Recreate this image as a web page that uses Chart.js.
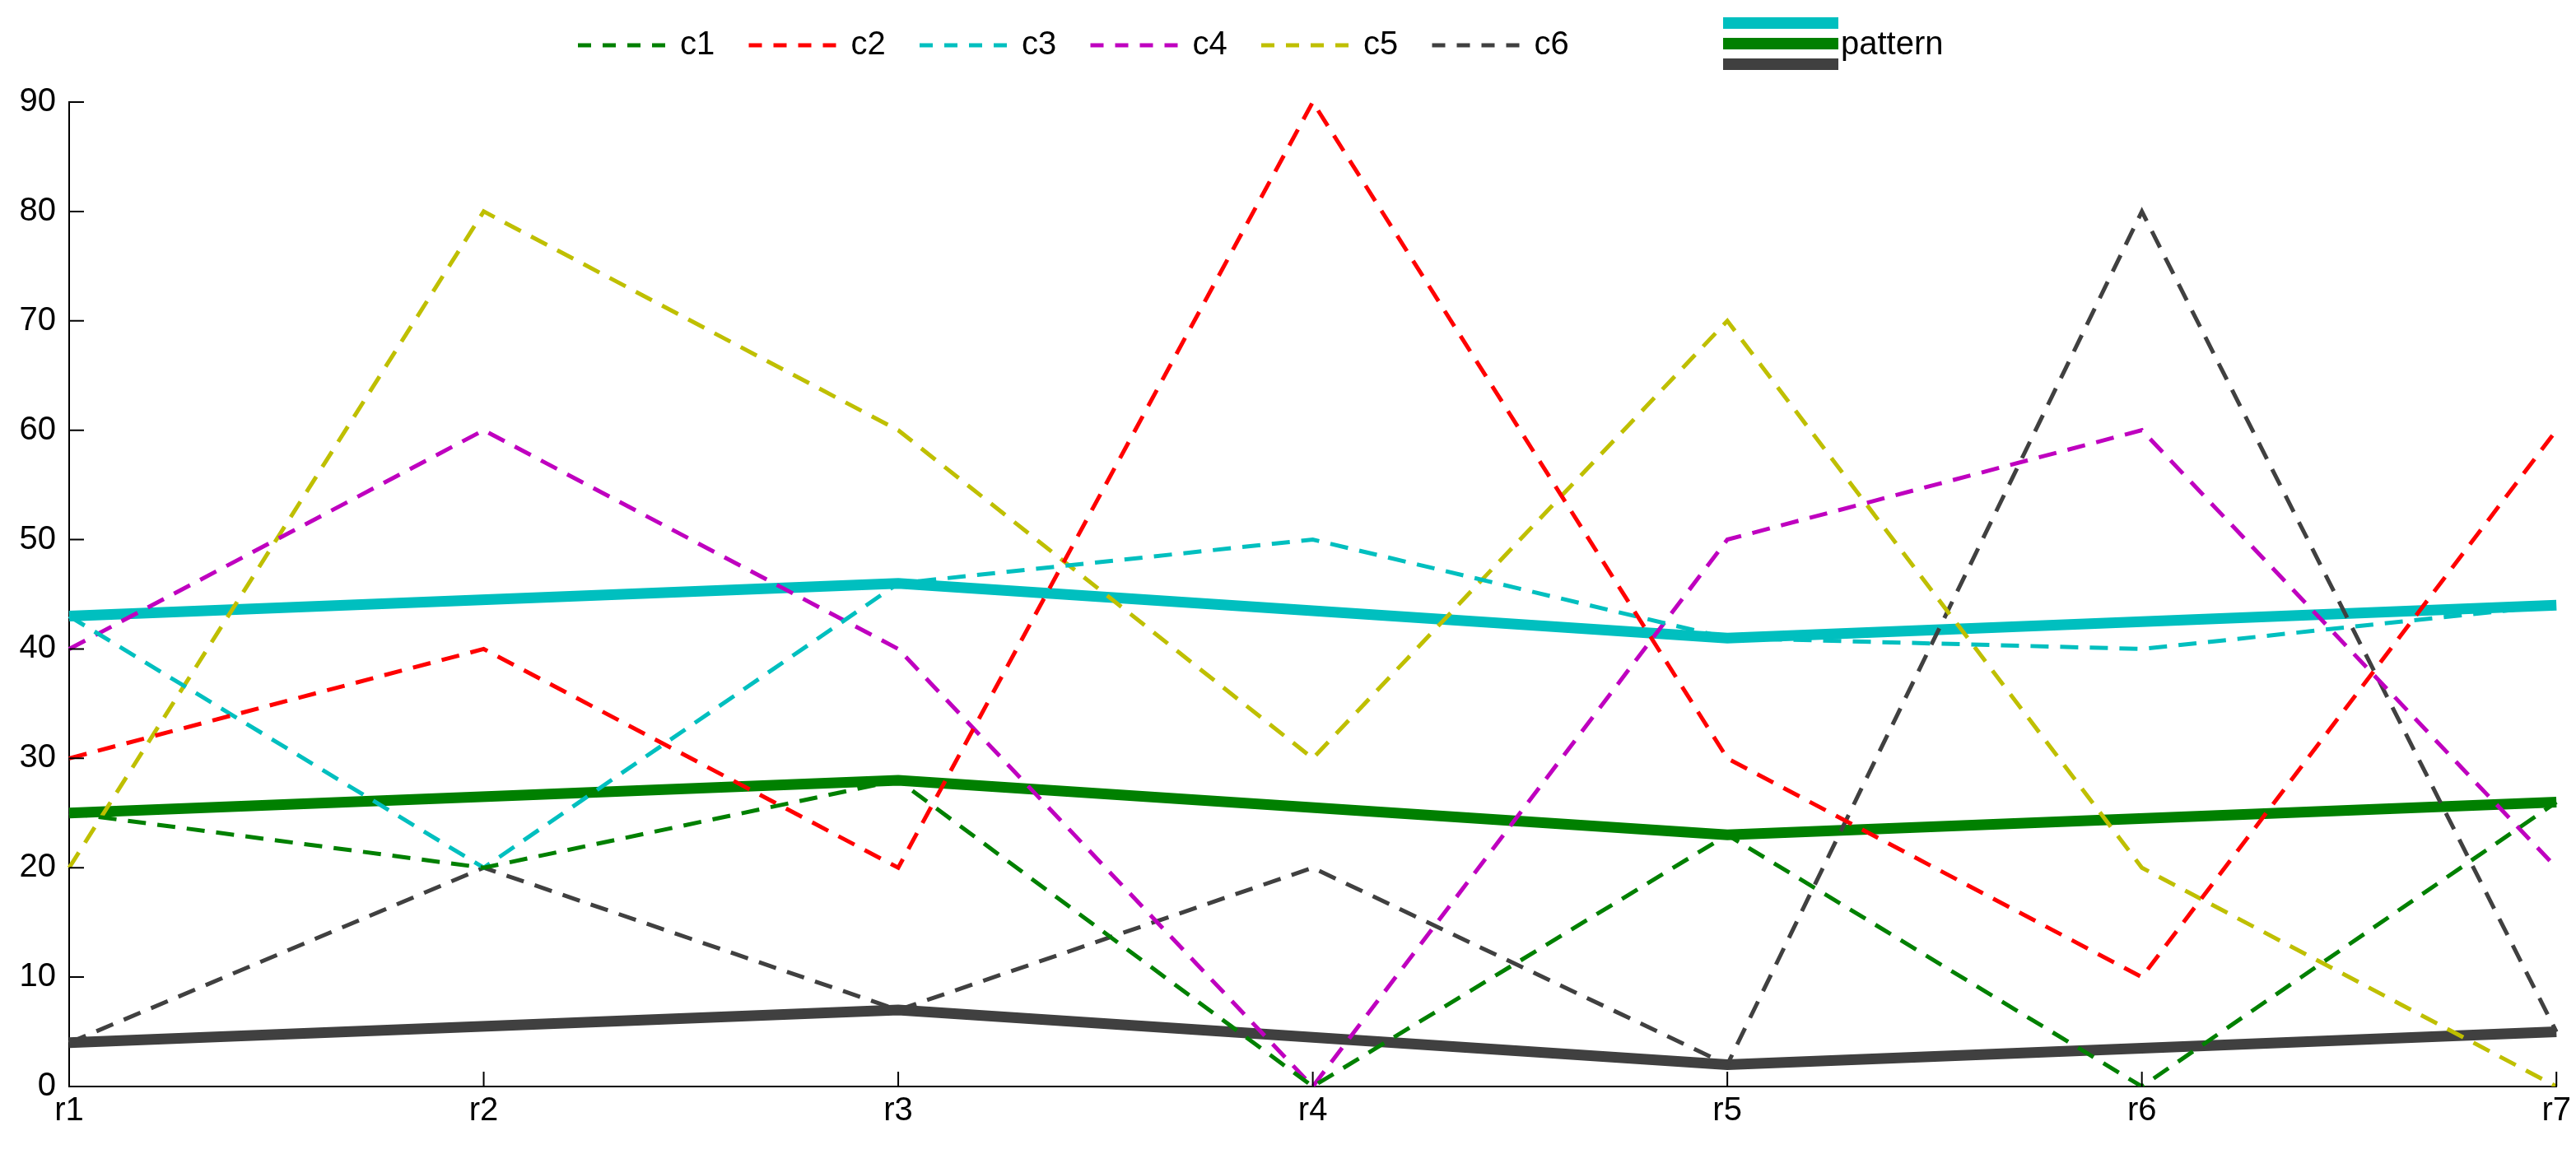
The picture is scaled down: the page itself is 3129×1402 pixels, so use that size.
<!DOCTYPE html>
<html>
<head>
<meta charset="utf-8">
<script src="https://cdn.jsdelivr.net/npm/chart.js@4"></script>
<style>
  html, body { margin: 0; background: #fff; }
  #wrap { width: 3129px; height: 1402px; }
</style>
</head>
<body>
<div id="wrap"><canvas id="myChart" width="3129" height="1402"></canvas></div>
<script>
const categories = ["r1", "r2", "r3", "r4", "r5", "r6", "r7"];
const c1 = [25, 20, 28, 0, 23, 0, 26];
const c2 = [30, 40, 20, 90, 30, 10, 60];
const c3 = [43, 20, 46, 50, 41, 40, 44];
const c4 = [40, 60, 40, 0, 50, 60, 20];
const c5 = [20, 80, 60, 30, 70, 20, 0];
const c6 = [4, 20, 7, 20, 2, 80, 5];
// pattern lines only have points at r1, r3, r5, r7
const patternCyan = [43, null, 46, null, 41, null, 44];
const patternGreen = [25, null, 28, null, 23, null, 26];
const patternGray = [4, null, 7, null, 2, null, 5];
const yTicks = [0, 10, 20, 30, 40, 50, 60, 70, 80, 90];

const FONT = "'Liberation Sans Narrow', 'Liberation Sans', sans-serif";
const colours = ["#008000", "#ff0000", "#00bfbf", "#bf00bf", "#bfbf00", "#404040"];
const names = ["c1", "c2", "c3", "c4", "c5", "c6"];
const series = [c1, c2, c3, c4, c5, c6];

let datasets = [];
series.forEach((s, i) => {
  datasets.push({
    label: names[i], data: s, borderColor: colours[i], borderWidth: 5,
    borderDash: [22, 14], pointRadius: 0, fill: false, tension: 0,
  });
});
[[patternCyan, "#00bfbf"], [patternGreen, "#008000"], [patternGray, "#404040"]].forEach((p) => {
  datasets.push({
    label: "pattern", data: p[0], borderColor: p[1], borderWidth: 13,
    pointRadius: 0, spanGaps: true, fill: false, tension: 0,
  });
});

// legend + inside tick marks
const extras = {
  id: "extras",
  afterDraw(chart) {
    const ctx = chart.ctx;
    const area = chart.chartArea;
    const xs = chart.scales.x, ys = chart.scales.y;
    ctx.save();
    ctx.strokeStyle = "#000";
    ctx.lineWidth = 2;
    ctx.beginPath();
    categories.forEach((c, i) => {
      const px = xs.getPixelForValue(i);
      ctx.moveTo(px, area.bottom); ctx.lineTo(px, area.bottom - 18);
    });
    yTicks.forEach((v) => {
      const py = ys.getPixelForValue(v);
      ctx.moveTo(area.left, py); ctx.lineTo(area.left + 18, py);
    });
    ctx.stroke();

    ctx.font = "40px " + FONT;
    ctx.fillStyle = "#000";
    ctx.textBaseline = "middle";
    let x = 702;
    const ly = 55;
    names.forEach((n, i) => {
      ctx.strokeStyle = colours[i];
      ctx.lineWidth = 5;
      ctx.setLineDash([16, 14]);
      ctx.beginPath(); ctx.moveTo(x, ly); ctx.lineTo(x + 108, ly); ctx.stroke();
      ctx.setLineDash([]);
      ctx.fillText(n, x + 124, ly);
      x += 207.5;
    });
    ["#00bfbf", "#008000", "#404040"].forEach((c, i) => {
      ctx.fillStyle = c;
      ctx.fillRect(2093, 21 + i * 25, 140, 14);
    });
    ctx.fillStyle = "#000";
    ctx.fillText("pattern", 2236, ly);
    ctx.restore();
  },
};

new Chart(document.getElementById("myChart").getContext("2d"), {
  type: "line",
  data: { labels: categories, datasets: datasets },
  plugins: [extras],
  options: {
    responsive: false,
    animation: false,
    layout: { padding: { top: 124, right: 19, left: 0, bottom: 22 } },
    plugins: { legend: { display: false }, tooltip: { enabled: false } },
    scales: {
      x: {
        offset: false,
        grid: { display: false, drawTicks: false, tickLength: 0 },
        border: { color: "#000", width: 2 },
        ticks: { color: "#000", font: { size: 40, family: FONT }, padding: 6, maxRotation: 0, autoSkip: false },
      },
      y: {
        min: 0, max: 90,
        afterBuildTicks: (axis) => { axis.ticks = yTicks.map((v) => ({ value: v })); },
        afterFit: (axis) => { axis.width = 84; },
        grid: { display: false, drawTicks: false, tickLength: 0 },
        border: { color: "#000", width: 2 },
        ticks: { color: "#000", font: { size: 40, family: FONT }, padding: 16 },
      },
    },
  },
});
</script>
</body>
</html>
